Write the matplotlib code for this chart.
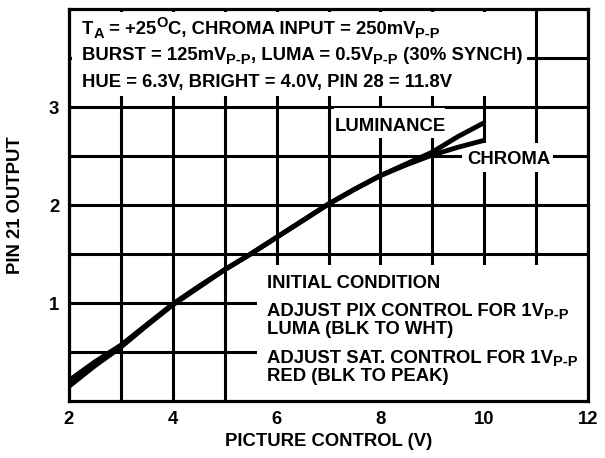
import matplotlib
matplotlib.use("Agg")
import matplotlib.pyplot as plt
from matplotlib.patches import Rectangle

plt.rcParams['font.family'] = ['Liberation Sans', 'DejaVu Sans']
plt.rcParams['font.weight'] = 'bold'

# Data
picture_v = [2, 2.5, 3, 3.5, 4, 4.5, 5, 5.5, 6, 6.5, 7, 7.5, 8, 8.5, 9, 9.5, 10]
luminance = [0.21, 0.40, 0.57, 0.78, 0.99, 1.17, 1.34, 1.50, 1.67, 1.84, 2.01, 2.16, 2.30, 2.42, 2.54, 2.70, 2.84]
chroma = [0.15, 0.36, 0.55, 0.77, 0.98, 1.16, 1.34, 1.50, 1.67, 1.84, 2.01, 2.16, 2.30, 2.41, 2.51, 2.59, 2.66]

x_major = [2, 4, 6, 8, 10, 12]
x_minor = [3, 5, 7, 9, 11]
y_major = [1, 2, 3]
y_minor = [0.5, 1.5, 2.5, 3.5]

FS = 13.3
SUB = 10.5
W, H = 605, 458
fig = plt.figure(figsize=(W / 100, H / 100), dpi=100)
ax = fig.add_axes([69 / W, (H - 401) / H, (588 - 69) / W, (401 - 9) / H])
ax.set_xlim(2, 12)
ax.set_ylim(0, 4)

ax.set_xticks(x_major)
ax.set_xticks(x_minor, minor=True)
ax.set_yticks(y_major)
ax.set_yticks(y_minor, minor=True)
ax.set_xticklabels([str(v) for v in x_major], fontsize=FS, fontweight='bold')
ax.set_yticklabels([str(v) for v in y_major], fontsize=FS, fontweight='bold')
ax.tick_params(which='both', length=0)
ax.tick_params(axis='x', pad=7)
ax.tick_params(axis='y', pad=7)
ax.grid(True, which='both', color='black', linewidth=2.2, zorder=1)
ax.set_axisbelow(True)
for s in ax.spines.values():
    s.set_linewidth(2.3)
    s.set_zorder(10)

ax.plot(picture_v, luminance, color='black', linewidth=3.5, zorder=5, solid_capstyle='butt')
ax.plot(picture_v, chroma, color='black', linewidth=3.5, zorder=5, solid_capstyle='butt')


def wbox(x0, y0, x1, y1):
    ax.add_patch(Rectangle((x0, y0), x1 - x0, y1 - y0, facecolor='white',
                           edgecolor='none', zorder=3))


wbox(2.06, 3.11, 10.82, 3.97)
wbox(5.62, 0.0, 12.0, 1.39)
wbox(7.10, 2.68, 9.25, 2.99)
wbox(9.57, 2.34, 11.33, 2.63)

DESC = 0.212  # descent fraction of Liberation Sans


def rich(x, y, parts):
    """Draw text made of (string, kind) parts; kind in 'n', 'sub', 'sup'."""
    base = ax.text(x, y, parts[0][0], fontsize=FS, fontweight='bold',
                   va='baseline', ha='left', zorder=6)
    prev = base
    for s, kind in parts[1:]:
        if kind == 'n':
            fs, dy = FS, 0.0
        elif kind == 'sub':
            fs = SUB
            dy = DESC * FS - DESC * SUB - 2.5
        else:
            fs = SUB
            dy = DESC * FS - DESC * SUB + 5.0
        t = ax.annotate(s, xy=(1, 0), xycoords=(prev, base), xytext=(0, dy),
                        textcoords='offset points', fontsize=fs, fontweight='bold',
                        va='bottom', ha='left', zorder=6, annotation_clip=False)
        prev = t
    return base


rich(2.25, 3.745, [('T', 'n'), ('A', 'sub'), (' = +25', 'n'), ('O', 'sup'),
                   ('C, CHROMA INPUT = 250mV', 'n'), ('P-P', 'sub')])
rich(2.25, 3.48, [('BURST = 125mV', 'n'), ('P-P', 'sub'), (', LUMA = 0.5V', 'n'),
                  ('P-P', 'sub'), (' (30% SYNCH)', 'n')])
rich(2.25, 3.20, [('HUE = 6.3V, BRIGHT = 4.0V, PIN 28 = 11.8V', 'n')])

rich(7.13, 2.755, [('LUMINANCE', 'n')])
rich(9.67, 2.42, [('CHROMA', 'n')])

rich(5.81, 1.15, [('INITIAL CONDITION', 'n')])
rich(5.81, 0.87, [('ADJUST PIX CONTROL FOR 1V', 'n'), ('P-P', 'sub')])
rich(5.81, 0.68, [('LUMA (BLK TO WHT)', 'n')])
rich(5.81, 0.39, [('ADJUST SAT. CONTROL FOR 1V', 'n'), ('P-P', 'sub')])
rich(5.81, 0.20, [('RED (BLK TO PEAK)', 'n')])

fig.text(328.5 / W, 1 - 441 / H, 'PICTURE CONTROL (V)', fontsize=FS, fontweight='bold',
         ha='center', va='center')
fig.text(16 / W, 1 - 205 / H, 'PIN 21 OUTPUT', fontsize=FS, fontweight='bold',
         ha='center', va='center', rotation=90)

fig.savefig('out.png', dpi=100)
